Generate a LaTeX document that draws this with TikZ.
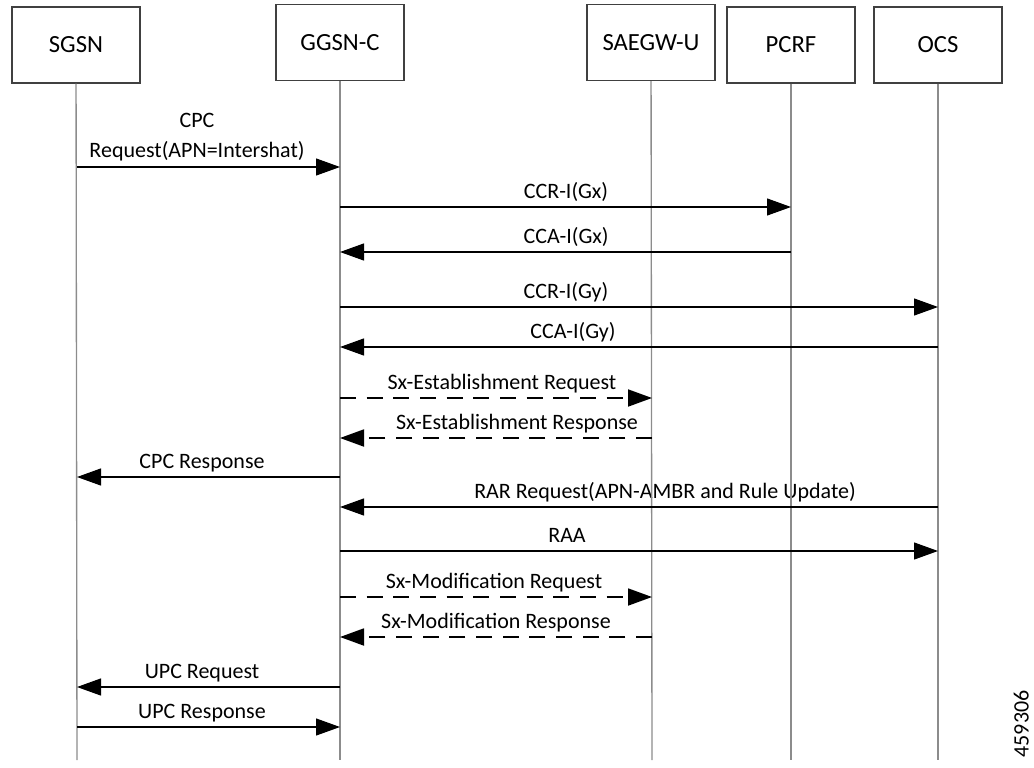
\documentclass[tikz,border=0pt]{standalone}
\usepackage{fontspec}
\setmainfont{Carlito}
\usetikzlibrary{arrows.meta,positioning}

\tikzset{
    entity/.style={draw=black!75, line width=1.1pt, minimum width=96pt, minimum height=57pt, inner sep=0pt, font=\fontsize{18.5}{22}\selectfont},
    lifeline/.style={draw=black!45, line width=1pt},
    msg/.style={line width=0.9pt, -{Triangle[length=18pt,width=12.75pt]}},
    reply/.style={msg, line width=1.4pt, dash pattern=on 12pt off 8pt},
    lbl/.style={anchor=base, inner sep=0pt, font=\fontsize{16.5}{20}\selectfont}
}

\begin{document}
\begin{tikzpicture}[x=0.75pt, y=-0.75pt]
    \useasboundingbox (0,0) rectangle (1034,767);
    % entities
    \node[entity] (sgsn) at (76,45) {SGSN};
    \node[entity] (ggsn) at (340,42.5) {GGSN-C};
    \node[entity] (saegw) at (651,42.5) {SAEGW-U};
    \node[entity] (pcrf) at (791,45) {PCRF};
    \node[entity] (ocs) at (938,45) {OCS};
    \coordinate (sgsnend) at (77,760);
    \coordinate (ggsnend) at (340,760);
    \coordinate (saegwend) at (652,760);
    \coordinate (pcrfend) at (791,760);
    \coordinate (ocsend) at (938,760);
    % message end points
    \coordinate (sgsn1) at (77,167);     \coordinate (ggsn1) at (340,167);
    \coordinate (ggsn2) at (340,207);    \coordinate (pcrf2) at (791,207);
    \coordinate (ggsn3) at (340,252);    \coordinate (pcrf3) at (791,252);
    \coordinate (ggsn4) at (340,307);    \coordinate (ocs4) at (938,307);
    \coordinate (ggsn5) at (340,347);    \coordinate (ocs5) at (938,347);
    \coordinate (ggsn6) at (340,398);    \coordinate (saegw6) at (652,398);
    \coordinate (ggsn7) at (340,438);    \coordinate (saegw7) at (652,438);
    \coordinate (sgsn8) at (77,477);     \coordinate (ggsn8) at (340,477);
    \coordinate (ggsn9) at (340,507);    \coordinate (ocs9) at (938,507);
    \coordinate (ggsn10) at (340,551);   \coordinate (ocs10) at (938,551);
    \coordinate (ggsn11) at (340,597);   \coordinate (saegw11) at (652,597);
    \coordinate (ggsn12) at (340,637);   \coordinate (saegw12) at (652,637);
    \coordinate (sgsn13) at (77,687);    \coordinate (ggsn13) at (340,687);
    \coordinate (sgsn14) at (77,727);    \coordinate (ggsn14) at (340,727);
    % labels
    \node[lbl] (cpcreq) at (197,157) {\shortstack{CPC\\[7pt]Request(APN=Intershat)}};
    \node[lbl] (ccrgx) at (566,198) {CCR-I(Gx)};
    \node[lbl] (ccagx) at (566,243) {CCA-I(Gx)};
    \node[lbl] (ccrgy) at (566,298) {CCR-I(Gy)};
    \node[lbl] (ccagy) at (573,338) {CCA-I(Gy)};
    \node[lbl] (sxestreq) at (502,389) {Sx-Establishment Request};
    \node[lbl] (sxestresp) at (517,429) {Sx-Establishment Response};
    \node[lbl] (cpcresp) at (202,468) {CPC Response};
    \node[lbl] (rarreq) at (665,498) {RAR Request(APN-AMBR and Rule Update)};
    \node[lbl] (raa) at (567,542) {RAA};
    \node[lbl] (sxmodreq) at (494,588) {Sx-Modification Request};
    \node[lbl] (sxmodresp) at (496,628) {Sx-Modification Response};
    \node[lbl] (upcreq) at (202,678) {UPC Request};
    \node[lbl] (upcresp) at (202,718) {UPC Response};
    \node[rotate=90, anchor=south, inner sep=0pt, font=\fontsize{16.5}{20}\selectfont] (figid) at (1029,724) {459306};
    % lifelines
    \draw[lifeline] (sgsn) -- (sgsnend);
    \draw[lifeline] (ggsn) -- (ggsnend);
    \draw[lifeline] (saegw) -- (saegwend);
    \draw[lifeline] (pcrf) -- (pcrfend);
    \draw[lifeline] (ocs) -- (ocsend);
    % messages
    \draw
    (sgsn1) edge[msg] (ggsn1)
    (ggsn2) edge[msg] (pcrf2)
    (pcrf3) edge[msg] (ggsn3)
    (ggsn4) edge[msg] (ocs4)
    (ocs5) edge[msg] (ggsn5)
    (ggsn6) edge[reply] (saegw6)
    (saegw7) edge[reply] (ggsn7)
    (ggsn8) edge[msg] (sgsn8)
    (ocs9) edge[msg] (ggsn9)
    (ggsn10) edge[msg] (ocs10)
    (ggsn11) edge[reply] (saegw11)
    (saegw12) edge[reply] (ggsn12)
    (ggsn13) edge[msg] (sgsn13)
    (sgsn14) edge[msg] (ggsn14);
\end{tikzpicture}
\end{document}
